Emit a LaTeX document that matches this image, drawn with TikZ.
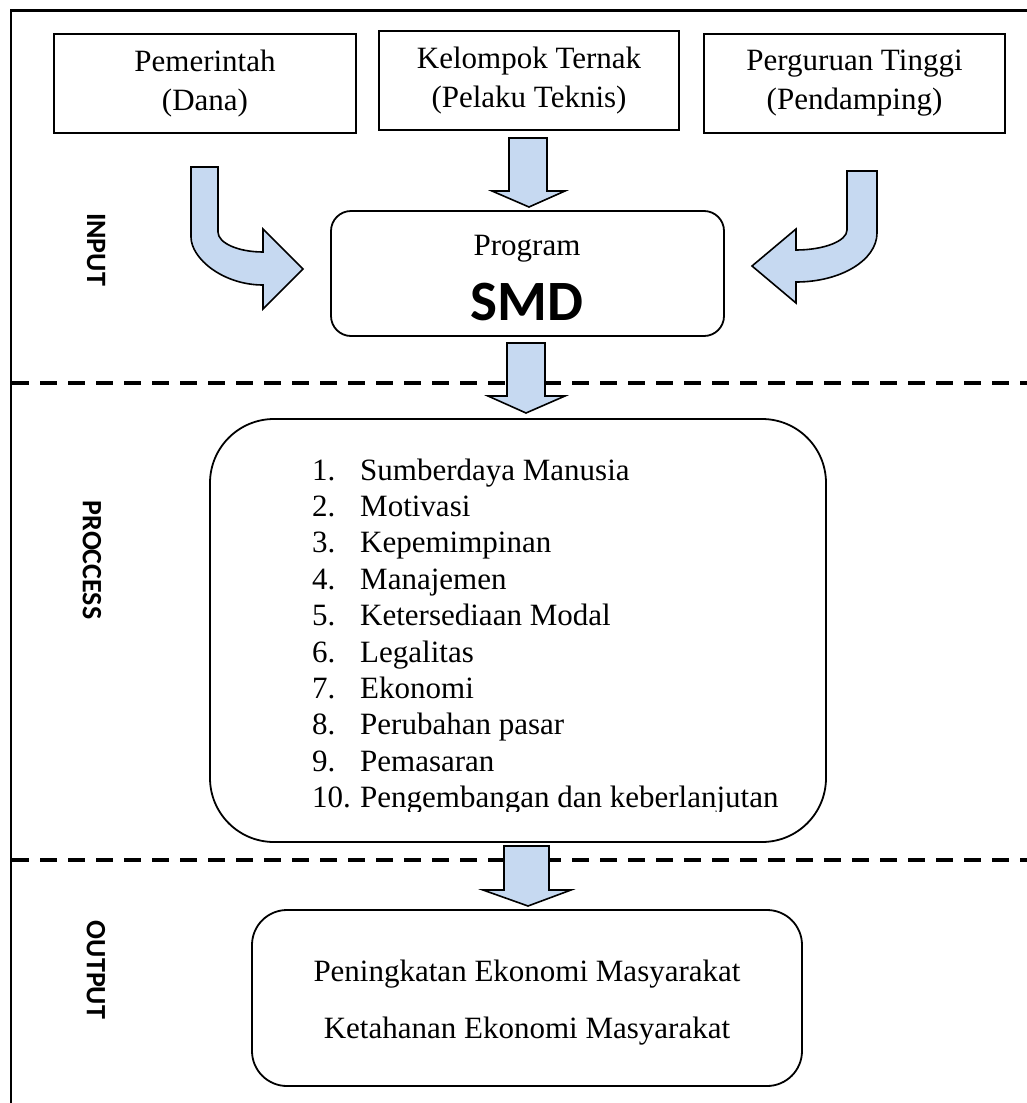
\documentclass[tikz,border=0pt]{standalone}
\usepackage{fontspec}
\setmainfont{Liberation Serif}
\newfontfamily\calib{Carlito}
\definecolor{arrowfill}{RGB}{198,217,241}
\begin{document}
\begin{tikzpicture}[x=1pt,y=-1pt,
  topbox/.style={draw=black, line width=1.8pt, align=center, inner sep=0pt,
    minimum height=99pt, font=\fontsize{31}{39}\selectfont},
  rbox/.style={draw=black, line width=1.8pt, inner sep=0pt},
  txt/.style={inner sep=0pt, font=\fontsize{31}{36}\selectfont},
  side/.style={inner sep=0pt, font=\calib\bfseries\fontsize{28}{30}\selectfont},
  barrow/.style={draw=black, line width=1.6pt, fill=arrowfill, line join=miter},
  sep/.style={draw=black, line width=4.5pt, dash pattern=on 17pt off 11pt}]
\useasboundingbox (0,0) rectangle (1027,1103);
\clip (0,0) rectangle (1027,1103);
\fill[white] (0,0) rectangle (1027,1103);
% outer frame
\draw[line width=2.5pt] (11,1120) -- (11,10.5) -- (1040,10.5);
% top boxes
\node[topbox, minimum width=302pt] (gov) at (205,83.5) {Pemerintah\\(Dana)};
\node[topbox, minimum width=300pt] (kel) at (529,80.5) {\raisebox{-3pt}{Kelompok Ternak}\\\raisebox{-3pt}{(Pelaku Teknis)}};
\node[topbox, minimum width=301pt] (pt) at (854.5,83.5) {Perguruan Tinggi\\(Pendamping)};
% program box
\node[rbox, rounded corners=20pt, minimum width=393pt, minimum height=125pt] (prog) at (527.5,273.5) {};
\node[txt, anchor=base] (progt) at (527,255) {Program};
\node[inner sep=0pt, anchor=base, font=\calib\bfseries\fontsize{57}{60}\selectfont] (smd) at (527,320) {SMD};
% side labels
\node[side, rotate=-90] (lin) at (96,249.5) {INPUT};
\node[side, rotate=-90] (lpr) at (92,560) {PROCCESS};
\node[side, rotate=-90] (lout) at (96,970) {OUTPUT};
% dashed separators
\draw[sep] (12,383) -- (1030,383);
\draw[sep] (12,860) -- (1030,860);
% curved arrows
\draw[barrow] (191,167) -- (218,167) -- (218,232)
  .. controls (218,243) and (238,252) .. (263,252)
  -- (263,229) -- (303,269) -- (263,309) -- (263,285)
  .. controls (223,285) and (191,258.5) .. (191,237) -- cycle;
\draw[barrow] (877,171) -- (847,171) -- (847,230)
  .. controls (847,241) and (824,250) .. (796,250)
  -- (796,229) -- (752,266) -- (796,303) -- (796,282)
  .. controls (841,282) and (877,260) .. (877,233) -- cycle;
% straight block arrows
\draw[barrow] (509,138) -- (547,138) -- (547,191) -- (565,191) -- (529,207) -- (492,191) -- (509,191) -- cycle;
\draw[barrow] (507,343) -- (545,343) -- (545,396) -- (565,396) -- (526,413) -- (488,396) -- (507,396) -- cycle;
% process box
\node[rbox, rounded corners=64pt, minimum width=616pt, minimum height=423pt] (proc) at (518,630.5) {};
\foreach \n/\t [count=\i] in {1./Sumberdaya Manusia, 2./Motivasi, 3./Kepemimpinan, 4./Manajemen,
  5./Ketersediaan Modal, 6./Legalitas, 7./Ekonomi, 8./Perubahan pasar, 9./Pemasaran}{
  \node[txt, anchor=base west] (num\i) at (312,{480+36.4*(\i-1)}) {\n};
  \node[txt, anchor=base west] (itm\i) at (360,{480+36.4*(\i-1)}) {\t};
}
\begin{scope}
\clip (300,770) rectangle (820,811);
\node[txt, anchor=base west] (num10) at (312,807.6) {10.};
\node[txt, anchor=base west] (itm10) at (360,807.6) {Pengembangan dan keberlanjutan};
\end{scope}
% arrow to output
\draw[barrow] (504,846) -- (549,846) -- (549,890) -- (571,890) -- (528,906) -- (483,890) -- (504,890) -- cycle;
% output box
\node[rbox, rounded corners=35pt, minimum width=550pt, minimum height=176pt] (out) at (527,998) {};
\node[txt, anchor=base] (o1) at (527,981) {Peningkatan Ekonomi Masyarakat};
\node[txt, anchor=base] (o2) at (527,1038) {Ketahanan Ekonomi Masyarakat};
\end{tikzpicture}
\end{document}
